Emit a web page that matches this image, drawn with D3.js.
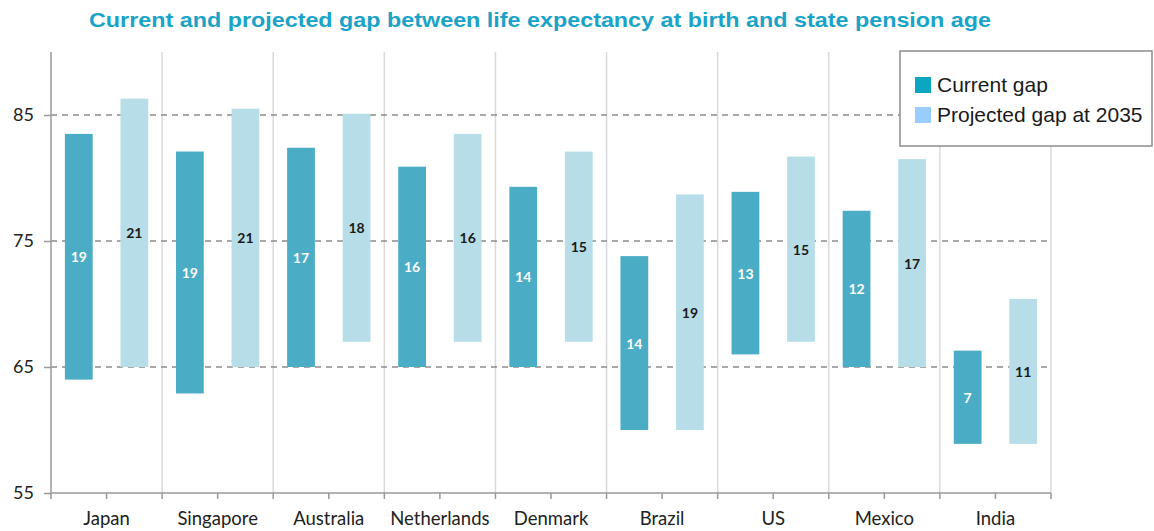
<!DOCTYPE html>
<html lang="en">

<head>
    <meta charset="UTF-8">
    <script src="https://cdn.jsdelivr.net/npm/d3@7"></script>
    <title>Life expectancy vs pension age</title>
    <style>
        body {
            margin: 0;
            background: white;
        }

        .title {
            font-family: "Liberation Sans", Arial, sans-serif;
            font-weight: bold;
            fill: #1aa3c8;
        }

        .axis text {
            font-family: Lato, "Open Sans", sans-serif;
            fill: #222;
        }

        .bar-label {
            font-family: Lato, "Open Sans", sans-serif;
            font-weight: bold;
            font-size: 14px;
        }

        .legend text {
            font-family: "Liberation Sans", Arial, sans-serif;
            font-size: 21px;
            fill: #1a1a1a;
        }
    </style>
</head>

<body>
    <div id="chart"></div>
    <script>
        /*---------------------------- data ----------------------------*/
        const countries = ["Japan", "Singapore", "Australia", "Netherlands", "Denmark", "Brazil", "US", "Mexico", "India"]

        // state pension age (bottom) and life expectancy (top), today
        const currentLow = [64, 62.9, 65, 65, 65, 60, 66, 65, 58.9]
        const currentHigh = [83.5, 82.1, 82.4, 80.9, 79.3, 73.8, 78.9, 77.4, 66.3]
        const currentGap = [19, 19, 17, 16, 14, 14, 13, 12, 7]

        // same thing projected at 2035
        const projectedLow = [65, 65, 67, 67, 67, 60, 67, 65, 58.9]
        const projectedHigh = [86.3, 85.5, 85.1, 83.5, 82.1, 78.7, 81.7, 81.5, 70.4]
        const projectedGap = [21, 21, 18, 16, 15, 19, 15, 17, 11]

        const seriesNames = ["Current gap", "Projected gap at 2035"]
        const yTicks = [55, 65, 75, 85]
        const yDomain = [55, 90]

        /*---------------------------- setup ---------------------------*/
        const width = 1154, height = 531
        const plot = { left: 51, right: 1051, top: 52, bottom: 493 }

        const barColors = ["#4bacc6", "#b7dee8"]
        const legendColors = ["#0aa6c2", "#99ccff"]
        const labelColors = ["#ffffff", "#1a1a1a"]

        const rows = countries.map((c, i) => ({
            country: c,
            bars: [
                { key: seriesNames[0], low: currentLow[i], high: currentHigh[i], gap: currentGap[i], s: 0 },
                { key: seriesNames[1], low: projectedLow[i], high: projectedHigh[i], gap: projectedGap[i], s: 1 }
            ]
        }))

        const svg = d3.select("#chart").append("svg")
            .attr("width", width)
            .attr("height", height)

        /*---------------------------- scales --------------------------*/
        const x = d3.scaleBand()
            .domain(countries)
            .range([plot.left, plot.right])
            .padding(0)

        const xInner = d3.scaleBand()
            .domain(seriesNames)
            .range([0, x.bandwidth()])
            .paddingInner(0.5)
            .paddingOuter(0.25)

        const y = d3.scaleLinear()
            .domain(yDomain)
            .range([plot.bottom, plot.top])

        /*---------------------------- grid ----------------------------*/
        // vertical lines between countries
        svg.append("g")
            .selectAll("line")
            .data(countries.slice(1).concat(["_end"]))
            .enter()
            .append("line")
            .attr("x1", d => d === "_end" ? plot.right : x(d))
            .attr("x2", d => d === "_end" ? plot.right : x(d))
            .attr("y1", plot.top)
            .attr("y2", plot.bottom)
            .attr("stroke", "#d9d9d9")
            .attr("stroke-width", 1.5)

        // dashed horizontal lines
        svg.append("g")
            .selectAll("line")
            .data(yTicks.slice(1))
            .enter()
            .append("line")
            .attr("x1", plot.left)
            .attr("x2", plot.right)
            .attr("y1", d => y(d))
            .attr("y2", d => y(d))
            .attr("stroke", "#8c8c8c")
            .attr("stroke-width", 1.3)
            .attr("stroke-dasharray", "6,5")

        /*---------------------------- bars ----------------------------*/
        const groups = svg.append("g")
            .selectAll("g")
            .data(rows)
            .enter()
            .append("g")
            .attr("transform", d => `translate(${x(d.country)},0)`)

        groups.selectAll("rect")
            .data(d => d.bars)
            .enter()
            .append("rect")
            .attr("x", d => xInner(d.key))
            .attr("width", xInner.bandwidth())
            .attr("y", d => y(d.high))
            .attr("height", d => y(d.low) - y(d.high))
            .attr("fill", d => barColors[d.s])

        groups.selectAll("text")
            .data(d => d.bars)
            .enter()
            .append("text")
            .attr("class", "bar-label")
            .attr("x", d => xInner(d.key) + xInner.bandwidth() / 2)
            .attr("y", d => (y(d.low) + y(d.high)) / 2)
            .attr("text-anchor", "middle")
            .attr("dominant-baseline", "central")
            .attr("fill", d => labelColors[d.s])
            .text(d => d.gap)

        /*---------------------------- axes ----------------------------*/
        const yAxis = svg.append("g")
            .attr("class", "axis")
            .attr("transform", `translate(${plot.left},0)`)
            .call(d3.axisLeft(y).tickValues(yTicks).tickSize(7).tickPadding(10))
        yAxis.select(".domain").attr("stroke", "#999").attr("stroke-width", 1.5)
            .attr("d", `M0,${plot.top}V${plot.bottom}`)
        yAxis.selectAll(".tick line").attr("stroke", "#999").attr("stroke-width", 1.5)
        yAxis.selectAll(".tick text").style("font-size", "18px")

        // half-band ticks along the bottom
        const halfTicks = d3.range(countries.length * 2 + 1).map(i => plot.left + i * x.bandwidth() / 2)
        svg.append("line")
            .attr("x1", plot.left).attr("x2", plot.right)
            .attr("y1", plot.bottom).attr("y2", plot.bottom)
            .attr("stroke", "#999").attr("stroke-width", 1.5)
        svg.append("g")
            .selectAll("line")
            .data(halfTicks)
            .enter()
            .append("line")
            .attr("x1", d => d).attr("x2", d => d)
            .attr("y1", plot.bottom).attr("y2", plot.bottom + 6)
            .attr("stroke", "#999").attr("stroke-width", 1.5)

        svg.append("g")
            .attr("class", "axis")
            .selectAll("text")
            .data(countries)
            .enter()
            .append("text")
            .attr("x", d => x(d) + x.bandwidth() / 2)
            .attr("y", 525)
            .attr("text-anchor", "middle")
            .style("font-size", "18.5px")
            .text(d => d)

        /*---------------------------- title ---------------------------*/
        svg.append("text")
            .attr("class", "title")
            .attr("x", 540)
            .attr("y", 27)
            .attr("text-anchor", "middle")
            .style("font-size", "20px")
            .attr("textLength", 902)
            .attr("lengthAdjust", "spacingAndGlyphs")
            .text("Current and projected gap between life expectancy at birth and state pension age")

        /*---------------------------- legend --------------------------*/
        const legend = svg.append("g").attr("class", "legend")
        legend.append("rect")
            .attr("x", 900).attr("y", 51)
            .attr("width", 252).attr("height", 95)
            .attr("fill", "white")
            .attr("stroke", "#8c8c8c")
            .attr("stroke-width", 1.5)

        const items = legend.selectAll("g")
            .data(seriesNames)
            .enter()
            .append("g")
            .attr("transform", (d, i) => `translate(915,${77 + i * 30})`)
        items.append("rect")
            .attr("width", 16).attr("height", 16)
            .attr("fill", (d, i) => legendColors[i])
        items.append("text")
            .attr("x", 22)
            .attr("y", 15)
            .text(d => d)
    </script>
</body>

</html>
